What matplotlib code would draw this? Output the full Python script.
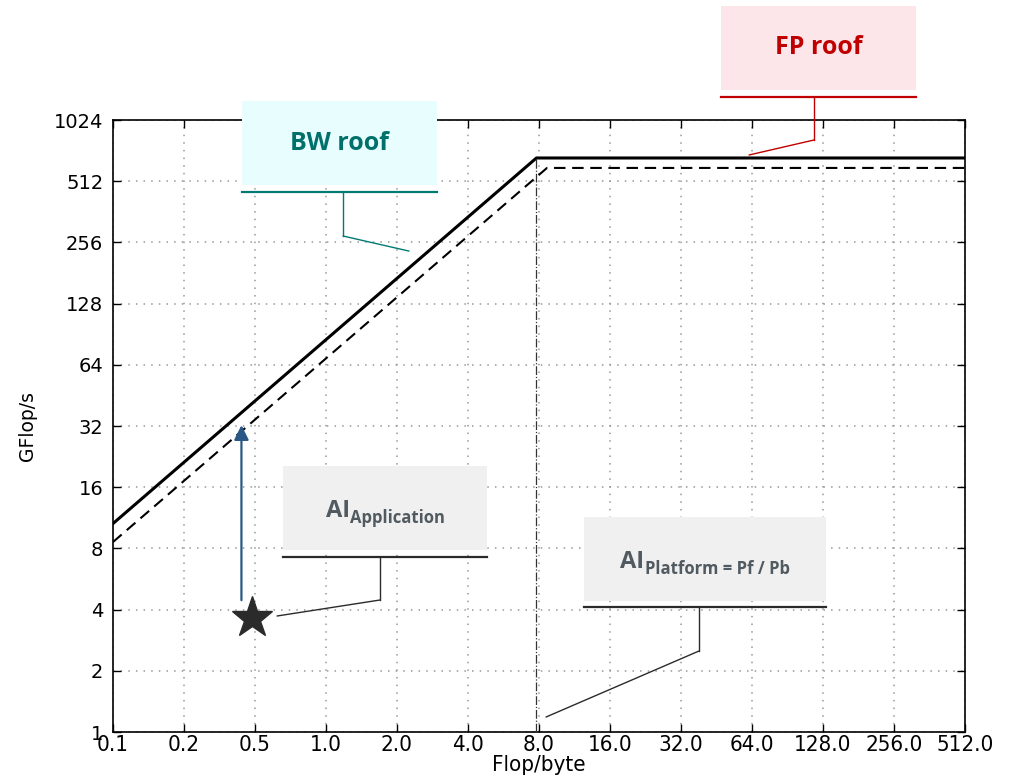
import matplotlib
matplotlib.use("Agg")
import matplotlib.pyplot as plt
from matplotlib.patches import Rectangle, ConnectionPatch
from matplotlib.lines import Line2D

# axis ticks
xticks = [0.125, 0.25, 0.5, 1, 2, 4, 8, 16, 32, 64, 128, 256, 512]
xtick_labels = ['0.1', '0.2', '0.5', '1.0', '2.0', '4.0', '8.0', '16.0',
                '32.0', '64.0', '128.0', '256.0', '512.0']
yticks = [1, 2, 4, 8, 16, 32, 64, 128, 256, 512, 1024]
ytick_labels = ['1', '2', '4', '8', '16', '32', '64', '128', '256', '512', '1024']

# roofs
roof_x = [0.125, 7.8, 512]
roof_y = [10.6, 666, 666]
roof2_x = [0.125, 8.65, 512]
roof2_y = [8.6, 595, 595]
ridge_x = [7.8, 7.8]
ridge_y = [1, 666]

# application point and arrow
app_x = [0.486]
app_y = [3.64]
arrow_x = 0.438
arrow_y = [4.45, 32.3]

W, H = 1010, 784
fig = plt.figure(figsize=(W / 100, H / 100), dpi=100)
ax = fig.add_axes([113 / W, 1 - 732 / H, (965 - 113) / W, (732 - 120) / H])

ax.plot(roof_x, roof_y, color='black', lw=2.2, zorder=3)
ax.plot(roof2_x, roof2_y, color='black', lw=1.5, dashes=(5.5, 3.2), zorder=3)
ax.plot(ridge_x, ridge_y, color='#333333', lw=0.9, dashes=(7, 1.5, 1, 1.5), zorder=3)
ax.plot(app_x, app_y, marker='*', markersize=31, color='#2b2b2b', ls='none', zorder=4)
ax.annotate('', xy=(arrow_x, arrow_y[1]), xytext=(arrow_x, arrow_y[0]),
            arrowprops=dict(arrowstyle='-|>', color='#2a5886', lw=1.6,
                            mutation_scale=22, shrinkA=0, shrinkB=0), zorder=4)

ax.set_xscale('log', base=2)
ax.set_yscale('log', base=2)
ax.set_xlim(0.125, 512)
ax.set_ylim(1, 1024)
ax.set_xticks(xticks, xtick_labels)
ax.set_yticks(yticks, ytick_labels)
ax.minorticks_off()
ax.tick_params(direction='in', top=True, right=True, length=6, width=1)
ax.tick_params(axis='x', pad=2)
ax.tick_params(axis='y', labelsize=14, pad=7)
for lab in ax.get_xticklabels():
    lab.set_fontsize(16)
    lab.set_fontstretch('condensed')
ax.grid(True, ls=(0, (1, 4)), color='#999999', lw=1.1)
ax.set_axisbelow(True)
for s in ax.spines.values():
    s.set_linewidth(1.2)
ax.set_xlabel('Flop/byte', fontsize=16, labelpad=0, fontstretch='condensed')
ax.set_ylabel('GFlop/s', fontsize=13.5, labelpad=12)


def fx(px):
    return px / W


def fy(py):
    return 1 - py / H


def callout(box, stem_x, elbow_y, target, line_c, bg):
    x0, y0, x1, y1, uy = box
    fig.add_artist(Rectangle((fx(x0), fy(y1)), fx(x1) - fx(x0), fy(y0) - fy(y1),
                             transform=fig.transFigure, facecolor=bg,
                             edgecolor='none', zorder=5))
    fig.add_artist(Line2D([fx(x0), fx(x1)], [fy(uy), fy(uy)], transform=fig.transFigure,
                          color=line_c, lw=1.6, zorder=6))
    fig.add_artist(Line2D([fx(stem_x), fx(stem_x)], [fy(uy), fy(elbow_y)],
                          transform=fig.transFigure, color=line_c, lw=1.0, zorder=6))
    con = ConnectionPatch(xyA=(fx(stem_x), fy(elbow_y)), coordsA=fig.transFigure,
                          xyB=target, coordsB=ax.transData, color=line_c, lw=1.0, zorder=6)
    fig.add_artist(con)


def sub_label(cx, base_y, main, sub, color):
    # main text followed by a subscript, centred as a whole on cx
    r = fig.canvas.get_renderer()
    t1 = fig.text(0, fy(base_y), main, fontsize=17, fontweight='bold',
                  family='Open Sans', color=color, va='baseline', zorder=7)
    t2 = fig.text(0, fy(base_y + 6), sub, fontsize=12, fontweight='bold',
                  family='Open Sans', color=color, va='baseline', zorder=7)
    w1 = t1.get_window_extent(r).width
    w2 = t2.get_window_extent(r).width
    left = cx - (w1 + w2) / 2
    t1.set_x(fx(left))
    t2.set_x(fx(left + w1))


callout((242, 101, 437, 185, 192), 343, 236, (2.25, 232), '#007a72', '#e8fdfd')
fig.text(fx(339.5), fy(143), 'BW roof', ha='center', va='center', color='#00706a',
         fontsize=18, fontweight='bold', family='Open Sans', zorder=7)

callout((721, 6, 916, 90, 97), 814, 140, (62.2, 689), '#c00000', '#fde6ea')
fig.text(fx(818.5), fy(48), 'FP roof', ha='center', va='center', color='#c00000',
         fontsize=18, fontweight='bold', family='Open Sans', zorder=7)

callout((283, 466, 487, 550, 557), 380, 600, (0.62, 3.72), '#2b2b2b', '#f0f0f0')
sub_label(385, 517, 'AI', 'Application', '#505a60')

callout((584, 517, 826, 601, 607), 699, 651, (8.57, 1.185), '#2b2b2b', '#f0f0f0')
sub_label(705, 568, 'AI', 'Platform = Pf / Pb', '#505a60')

fig.savefig('out.png', dpi=100)
